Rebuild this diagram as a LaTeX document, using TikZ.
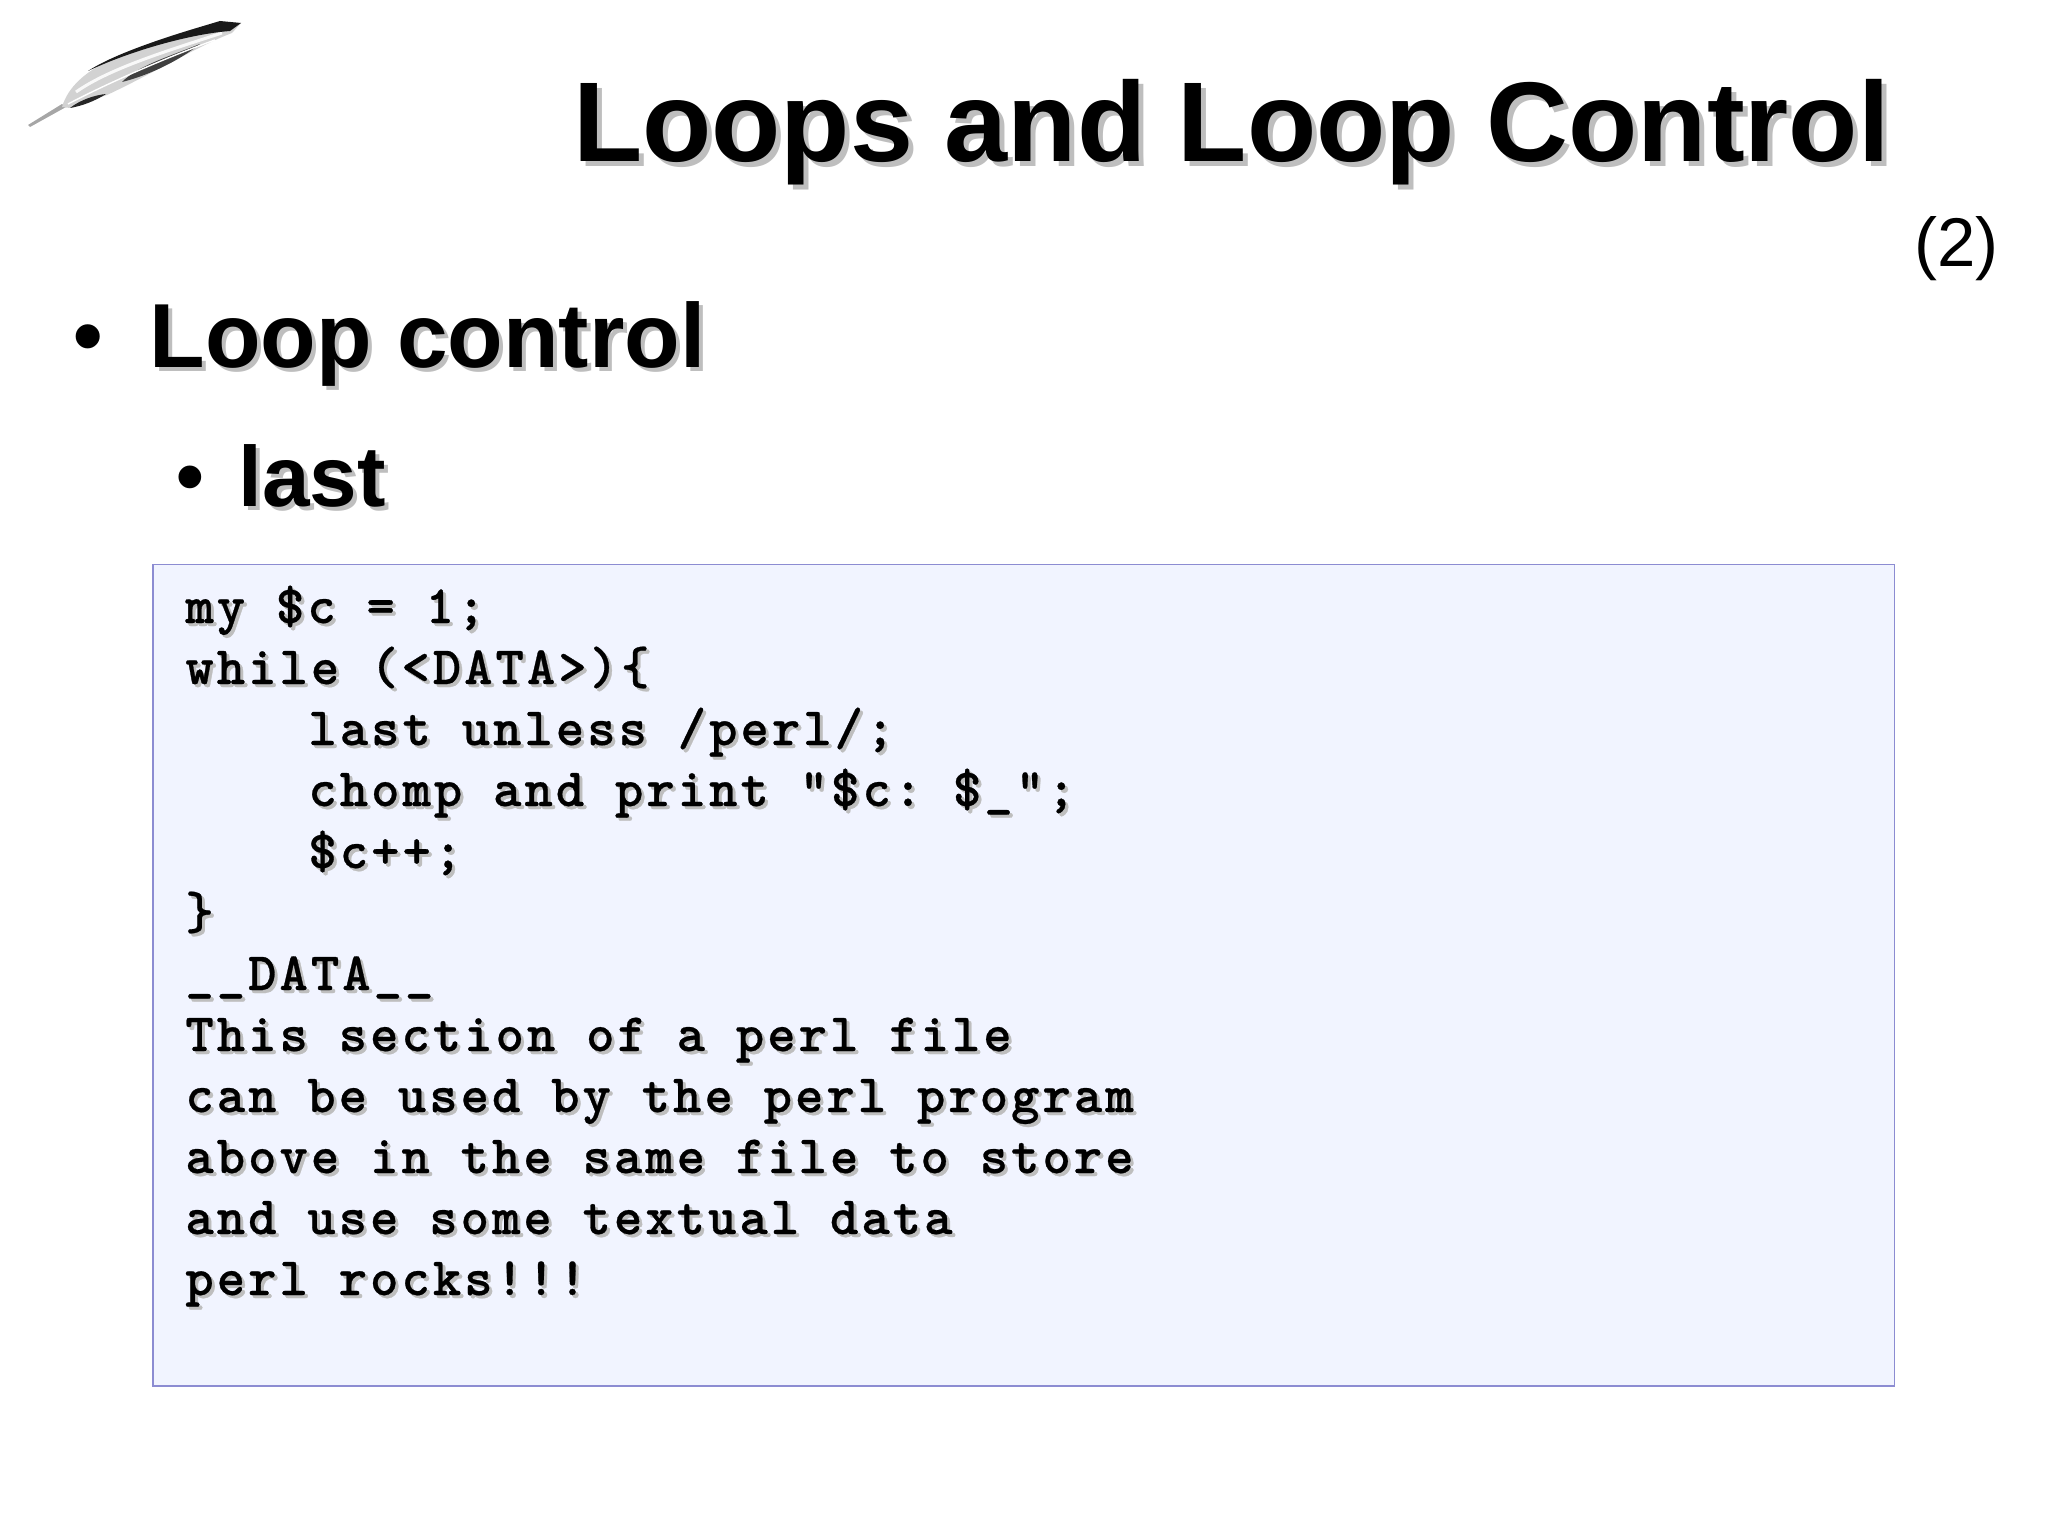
\documentclass[tikz,border=0pt]{standalone}
\usepackage{fontspec}
\setmainfont{Liberation Sans}
\newfontfamily\codefont[LetterSpace=5.6,FakeBold=0.5]{lmmonolt10-bold.otf}
\newcommand{\codesetup}{\setlength{\spaceskip}{15.42pt}\setlength{\xspaceskip}{15.42pt}}
\definecolor{boxfill}{RGB}{241,244,255}
\definecolor{boxline}{RGB}{140,140,210}
\definecolor{shadowgray}{RGB}{190,190,190}
\tikzset{
  slidetext/.style={inner sep=0pt,anchor=base west},
  titletext/.style={slidetext,font=\fontsize{56.7}{60}\selectfont\bfseries},
  headtext/.style={slidetext,font=\fontsize{45.5}{50}\selectfont\bfseries},
  subtext/.style={slidetext,font=\fontsize{42.75}{46}\selectfont\bfseries},
  pagetext/.style={slidetext,font=\fontsize{34.5}{38}\selectfont},
  codetext/.style={slidetext,font=\fontsize{27}{30}\codefont\codesetup},
  codebox/.style={draw=boxline,fill=boxfill,line width=0.75pt}
}
% text with its drop shadow, offset given in pixels
\newcommand{\shadowed}[6]{%
  \node[#2,text=shadowgray] (#1s) at (#3+#6,#4+#6) {#5};
  \node[#2] (#1) at (#3,#4) {#5};
}
\begin{document}
\begin{tikzpicture}[x=0.5pt,y=-0.5pt]
  \useasboundingbox (0,0) rectangle (2048,1536);
  % feather
  \fill[gray!70] (28,125)--(62,104)--(66,107)--(30,127)--cycle;
  \fill[gray!35] (62,107) .. controls (68,87) and (85,72) .. (110,60)
    .. controls (150,42) and (190,28) .. (225,22) -- (241,23) -- (232,33)
    .. controls (200,45) and (150,75) .. (107,95) -- (70,108) -- cycle;
  \draw[gray!5,line width=1.5pt] (76,92) .. controls (110,68) and (170,50) .. (222,33);
  \fill[black!75] (122,82) .. controls (138,66) and (165,58) .. (200,44)
    .. controls (180,60) and (150,75) .. (122,82) -- cycle;
  \fill[black!85] (70,108) .. controls (80,100) and (95,95) .. (106,94)
    .. controls (95,101) and (82,106) .. (70,108) -- cycle;
  \fill[black!90] (88,71) .. controls (120,50) and (190,30) .. (220,21) -- (241,23) -- (230,31)
    .. controls (190,34) and (130,51) .. (88,71) -- cycle;
  \draw[white,line width=0.7pt] (68,104) .. controls (110,82) and (170,56) .. (215,40);
  % title and bullets
  \shadowed{title}{titletext}{572.7}{161}{Loops and Loop Control}{5}
  \node[pagetext] (page) at (1914,266) {(2)};
  \node[slidetext,font=\fontsize{42}{46}\selectfont\bfseries] (bulleta) at (73.3,364.5) {•};
  \shadowed{loopctl}{headtext}{149}{367}{Loop control}{4}
  \node[slidetext,font=\fontsize{39.6}{44}\selectfont\bfseries] (bulletb) at (176,503) {•};
  \shadowed{lastkw}{subtext}{238}{506}{last}{4}
  % code box
  \draw[codebox] (153,564.3) rectangle (1894.7,1386);
  \shadowed{codea}{codetext}{185}{623}{my \$c = 1;}{3}
  \shadowed{codeb}{codetext}{185}{684}{while (<DATA>)\{}{3}
  \shadowed{codec}{codetext}{308}{745}{last unless /perl/;}{3}
  \shadowed{coded}{codetext}{308}{806}{chomp and print "\$c: \$\_";}{3}
  \shadowed{codee}{codetext}{308}{868}{\$c++;}{3}
  \shadowed{codef}{codetext}{185}{929}{\}}{3}
  \shadowed{codeg}{codetext}{185}{990}{\_\_DATA\_\_}{3}
  \shadowed{codeh}{codetext}{185}{1051}{This section of a perl file}{3}
  \shadowed{codei}{codetext}{185}{1112}{can be used by the perl program}{3}
  \shadowed{codej}{codetext}{185}{1173}{above in the same file to store}{3}
  \shadowed{codek}{codetext}{185}{1234}{and use some textual data}{3}
  \shadowed{codel}{codetext}{185}{1295}{perl rocks!!!}{3}
\end{tikzpicture}
\end{document}
